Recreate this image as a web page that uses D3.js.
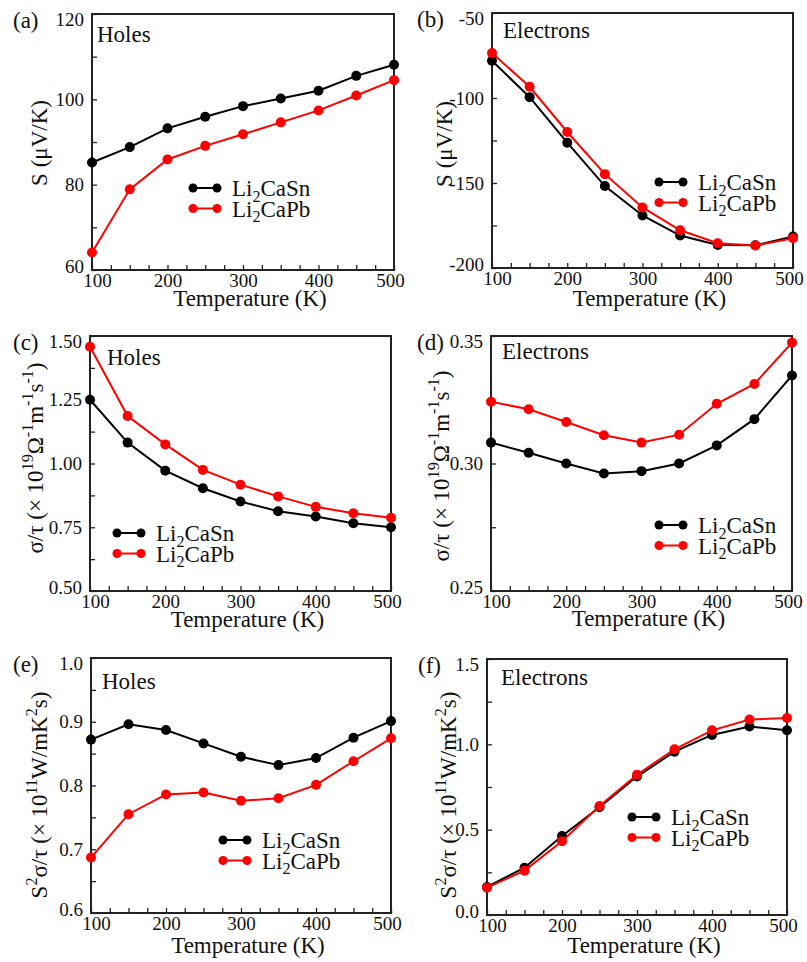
<!DOCTYPE html>
<html>
<head>
<meta charset="utf-8">
<script src="https://cdn.jsdelivr.net/npm/d3@7"></script>
<style>
  body { margin: 0; background: #fff; }
  svg text { font-family: "Liberation Serif", "Times New Roman", serif; fill: #111; }
</style>
</head>
<body>
<svg id="chart" width="807" height="962"></svg>
<script>
// temperatures (K)
var temps = [100, 150, 200, 250, 300, 350, 400, 450, 500];

// Seebeck coefficient S (uV/K)
var seebeckHolesSn = [85.2, 88.8, 93.2, 95.9, 98.4, 100.2, 102.0, 105.5, 108.1];
var seebeckHolesPb = [64.1, 78.9, 85.9, 89.1, 91.8, 94.6, 97.4, 100.9, 104.5];
var seebeckElecSn = [-78.1, -99.5, -126.3, -151.8, -169.1, -180.9, -186.4, -186.6, -181.5];
var seebeckElecPb = [-73.6, -93.4, -120.0, -144.8, -164.4, -177.8, -185.4, -186.8, -182.5];

// sigma/tau (x 10^19)
var condHolesSn = [1.25, 1.082, 0.972, 0.903, 0.851, 0.813, 0.792, 0.766, 0.75];
var condHolesPb = [1.458, 1.186, 1.075, 0.975, 0.917, 0.871, 0.830, 0.805, 0.787];
var condElecSn = [0.3082, 0.3042, 0.3000, 0.2961, 0.2970, 0.3000, 0.3071, 0.3174, 0.3345];
var condElecPb = [0.3242, 0.3213, 0.3163, 0.3111, 0.3082, 0.3113, 0.3234, 0.3312, 0.3474];

// power factor S^2 sigma/tau (x 10^11)
var pfHolesSn = [0.872, 0.896, 0.887, 0.866, 0.845, 0.832, 0.843, 0.875, 0.901];
var pfHolesPb = [0.687, 0.755, 0.786, 0.789, 0.776, 0.780, 0.801, 0.838, 0.874];
var pfElecSn = [0.164, 0.277, 0.463, 0.631, 0.811, 0.957, 1.055, 1.104, 1.082];
var pfElecPb = [0.160, 0.260, 0.432, 0.639, 0.822, 0.971, 1.082, 1.145, 1.154];

// tick labels
var tempTicks = [100, 200, 300, 400, 500];
var seebeckHolesTicks = [60, 80, 100, 120];
var seebeckElecTicks = [-200, -150, -100, -50];
var condHolesTicks = [0.50, 0.75, 1.00, 1.25, 1.50];
var condElecTicks = [0.25, 0.30, 0.35];
var pfHolesTicks = [0.6, 0.7, 0.8, 0.9, 1.0];
var pfElecTicks = [0.0, 0.5, 1.0, 1.5];

var seriesNames = [[["Li", ""], ["2", "sub"], ["CaSn", ""]], [["Li", ""], ["2", "sub"], ["CaPb", ""]]];
var seriesColors = ["#000000", "#ff0000"];

var titleS = [["S (\u03bcV/K)", ""]];
var titleCond = [["\u03c3/\u03c4 (\u00d7 10", ""], ["19", "sup"], ["\u03a9", ""], ["-1", "sup"], ["m", ""], ["-1", "sup"], ["s", ""], ["-1", "sup"], [")", ""]];
var titlePf = [["S", ""], ["2", "sup"], ["\u03c3/\u03c4 (\u00d7 10", ""], ["11", "sup"], ["W/mK", ""], ["2", "sup"], ["s)", ""]];

var panels = [
  {lab: "(a)", carrier: "Holes", L: 92, T: 14, W: 302, H: 256, ticks: seebeckHolesTicks, minor: 10, fmt: function(d) { return String(d); },
   sn: seebeckHolesSn, pb: seebeckHolesPb, title: titleS, labX: 13, labY: 28, carX: 97, carY: 42, tX: 47, tY: 143, xtY: 306, legX: 193, legY: 188},
  {lab: "(b)", carrier: "Electrons", L: 492, T: 13, W: 301, H: 255, ticks: seebeckElecTicks, minor: 25, fmt: function(d) { return String(d); },
   sn: seebeckElecSn, pb: seebeckElecPb, title: titleS, labX: 417, labY: 27, carX: 503, carY: 38, tX: 452, tY: 144, xtY: 306, legX: 659, legY: 182},
  {lab: "(c)", carrier: "Holes", L: 90, T: 336, W: 301, H: 255, ticks: condHolesTicks, minor: 0.125, fmt: d3.format(".2f"),
   sn: condHolesSn, pb: condHolesPb, title: titleCond, labX: 13, labY: 350, carX: 107, carY: 365, tX: 43, tY: 458, xtY: 627, legX: 117, legY: 533},
  {lab: "(d)", carrier: "Electrons", L: 491, T: 336, W: 301, H: 255, ticks: condElecTicks, minor: 0.025, fmt: d3.format(".2f"),
   sn: condElecSn, pb: condElecPb, title: titleCond, labX: 417, labY: 350, carX: 502, carY: 359, tX: 449, tY: 466, xtY: 626, legX: 659, legY: 525},
  {lab: "(e)", carrier: "Holes", L: 91, T: 658, W: 300, H: 255, ticks: pfHolesTicks, minor: 0.05, fmt: d3.format(".1f"),
   sn: pfHolesSn, pb: pfHolesPb, title: titlePf, labX: 13, labY: 672, carX: 102, carY: 689, tX: 47, tY: 795, xtY: 953, legX: 223, legY: 840},
  {lab: "(f)", carrier: "Electrons", L: 487, T: 659, W: 300, H: 256, ticks: pfElecTicks, minor: 0.25, fmt: d3.format(".1f"),
   sn: pfElecSn, pb: pfElecPb, title: titlePf, labX: 418, labY: 673, carX: 501, carY: 685, tX: 456, tY: 795, xtY: 953, legX: 632, legY: 817}
];

window.onload = function() {
  makeCharts();
};

// text with sub/superscript pieces
function rich(sel, parts, fs) {
  var shift = 0;
  parts.forEach(function(p) {
    var target = p[1] === "sup" ? -0.42 * fs : (p[1] === "sub" ? 0.26 * fs : 0);
    sel.append("tspan")
      .attr("dy", target - shift)
      .style("font-size", p[1] ? (0.7 * fs) + "px" : fs + "px")
      .text(p[0]);
    shift = target;
  });
}

function makeCharts() {
  var svg = d3.select("#chart");

  panels.forEach(function(p) {
    var g = svg.append("g").attr("transform", "translate(" + p.L + "," + p.T + ")");

    var x = d3.scaleLinear().domain([100, 500]).range([0, p.W]);
    var lo = p.ticks[0], hi = p.ticks[p.ticks.length - 1];
    var y = d3.scaleLinear().domain([lo, hi]).range([p.H, 0]);

    // ticks every 25 K on x, minor steps on y
    var xTicks = d3.range(0, 17).map(function(i) { return 100 + i * 25; });
    var nMinor = Math.round((hi - lo) / p.minor);
    var yTicks = d3.range(0, nMinor + 1).map(function(i) { return lo + i * p.minor; });
    var isMajor = function(v) { return p.ticks.some(function(t) { return Math.abs(t - v) < 1e-6; }); };

    var xa = g.append("g")
      .attr("transform", "translate(0," + p.H + ")")
      .call(d3.axisBottom(x).tickValues(xTicks).tickSizeInner(-5).tickSizeOuter(0).tickPadding(4)
        .tickFormat(function(d) { return tempTicks.indexOf(d) >= 0 ? d : ""; }));
    xa.select(".domain").remove();
    xa.selectAll(".tick line").attr("stroke", "#222").attr("stroke-width", 1.3);
    xa.selectAll(".tick text").style("font-size", "19px").attr("fill", "#111");
    xa.selectAll(".tick text").filter(function(d) { return d === 100; }).attr("dx", 5);
    xa.selectAll(".tick text").filter(function(d) { return d === 500; }).attr("dx", -4);

    var ya = g.append("g")
      .call(d3.axisLeft(y).tickValues(yTicks).tickSizeInner(-5).tickSizeOuter(0).tickPadding(8)
        .tickFormat(function(d) { return isMajor(d) ? p.fmt(d) : ""; }));
    ya.select(".domain").remove();
    ya.selectAll(".tick line").attr("stroke", "#222").attr("stroke-width", 1.3);
    ya.selectAll(".tick text").style("font-size", "19px").attr("fill", "#111");
    ya.selectAll(".tick text").filter(function(d) { return Math.abs(d - hi) < 1e-6; }).attr("dy", "0.6em");
    ya.selectAll(".tick text").filter(function(d) { return Math.abs(d - lo) < 1e-6; }).attr("dy", "0.12em");

    // frame
    g.append("rect")
      .attr("width", p.W).attr("height", p.H)
      .attr("fill", "none").attr("stroke", "#222").attr("stroke-width", 2);

    // series
    var line = d3.line()
      .x(function(d, i) { return x(temps[i]); })
      .y(function(d) { return y(d); });

    [p.sn, p.pb].forEach(function(vals, k) {
      g.append("path")
        .datum(vals)
        .attr("d", line)
        .attr("fill", "none")
        .attr("stroke", seriesColors[k])
        .attr("stroke-width", 2);
      g.selectAll(".dot" + k)
        .data(vals)
        .enter().append("circle")
        .attr("class", "dot" + k)
        .attr("cx", function(d, i) { return x(temps[i]); })
        .attr("cy", function(d) { return y(d); })
        .attr("r", 5)
        .attr("fill", seriesColors[k]);
    });

    // panel letter, carrier type
    svg.append("text").attr("x", p.labX).attr("y", p.labY).style("font-size", "23px").text(p.lab);
    svg.append("text").attr("x", p.carX).attr("y", p.carY).style("font-size", "23px").text(p.carrier);

    // axis titles
    svg.append("text")
      .attr("x", p.L + p.W / 2 + 7).attr("y", p.xtY)
      .attr("text-anchor", "middle").style("font-size", "23px")
      .text("Temperature (K)");
    var yt = svg.append("text")
      .attr("transform", "translate(" + p.tX + "," + p.tY + ") rotate(-90)")
      .attr("text-anchor", "middle").style("font-size", "23px");
    rich(yt, p.title, 23);

    // legend
    var leg = svg.append("g").attr("transform", "translate(" + p.legX + "," + p.legY + ")");
    seriesNames.forEach(function(name, k) {
      var row = leg.append("g").attr("transform", "translate(0," + (k * 20.5) + ")");
      row.append("line").attr("x1", 0).attr("x2", 24).attr("stroke", seriesColors[k]).attr("stroke-width", 2);
      row.append("circle").attr("cx", 0).attr("r", 4.5).attr("fill", seriesColors[k]);
      row.append("circle").attr("cx", 24).attr("r", 4.5).attr("fill", seriesColors[k]);
      var t = row.append("text").attr("x", 39).attr("y", 8);
      rich(t, name, 23);
    });
  });
}
</script>
</body>
</html>
